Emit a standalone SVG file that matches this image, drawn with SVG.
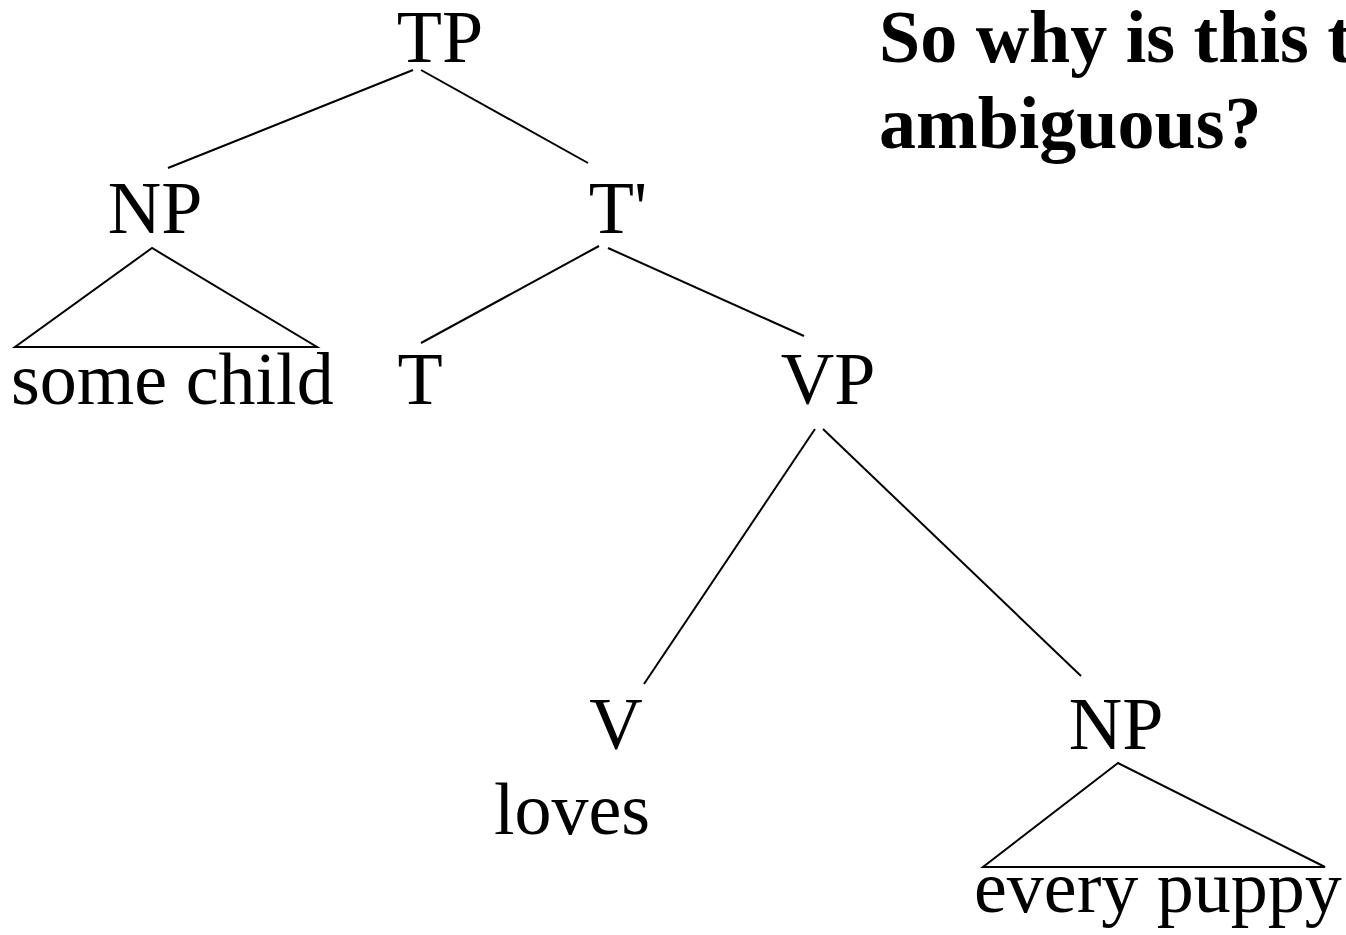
<svg xmlns="http://www.w3.org/2000/svg" width="1346" height="935" viewBox="0 0 1346 935">
  <style>
    .lbl { font-family: "Liberation Serif", "Times New Roman", serif; font-size: 74px; fill: #000; text-anchor: middle; }
    .word { font-family: "Liberation Serif", "Times New Roman", serif; font-size: 74px; fill: #000; }
    .title { font-family: "Liberation Serif", "Times New Roman", serif; font-size: 74px; font-weight: bold; fill: #000; }
    .edge { stroke: #000; stroke-width: 2; fill: none; stroke-linecap: butt; }
  </style>
  <rect width="1346" height="935" fill="#fff"/>

  <!-- branches of the tree -->
  <g id="connectors">
    <line class="edge" x1="413" y1="70" x2="168" y2="168"/>
    <line class="edge" x1="421" y1="70" x2="588" y2="163"/>
    <line class="edge" x1="599" y1="246" x2="421" y2="343"/>
    <line class="edge" x1="608" y1="248" x2="804" y2="336"/>
    <line class="edge" x1="815" y1="429" x2="644" y2="684"/>
    <line class="edge" x1="823" y1="429" x2="1081" y2="676"/>
    <!-- collapsed phrases drawn as triangles -->
    <polygon class="edge" points="152,248 15,347 317,347"/>
    <polygon class="edge" points="1118,763 983,867 1325,867"/>
  </g>

  <g id="node-tp"><text class="lbl" x="440" y="62">TP</text></g>
  <g id="node-np-subject"><text class="lbl" x="155" y="233">NP</text></g>
  <g id="node-tbar"><text class="lbl" x="618" y="233">T'</text></g>
  <g id="node-some-child"><text class="word" x="11" y="404">some child</text></g>
  <g id="node-t"><text class="lbl" x="420" y="404">T</text></g>
  <g id="node-vp"><text class="lbl" x="828" y="404">VP</text></g>
  <g id="node-v"><text class="lbl" x="616" y="749">V</text></g>
  <g id="node-loves"><text class="lbl" x="572" y="834">loves</text></g>
  <g id="node-np-object"><text class="lbl" x="1116" y="749">NP</text></g>
  <g id="node-every-puppy"><text class="word" x="974" y="912">every puppy</text></g>

  <g id="question">
    <text class="title" x="879" y="62">So why is this t</text>
    <text class="title" x="879" y="148">ambiguous?</text>
  </g>
</svg>
